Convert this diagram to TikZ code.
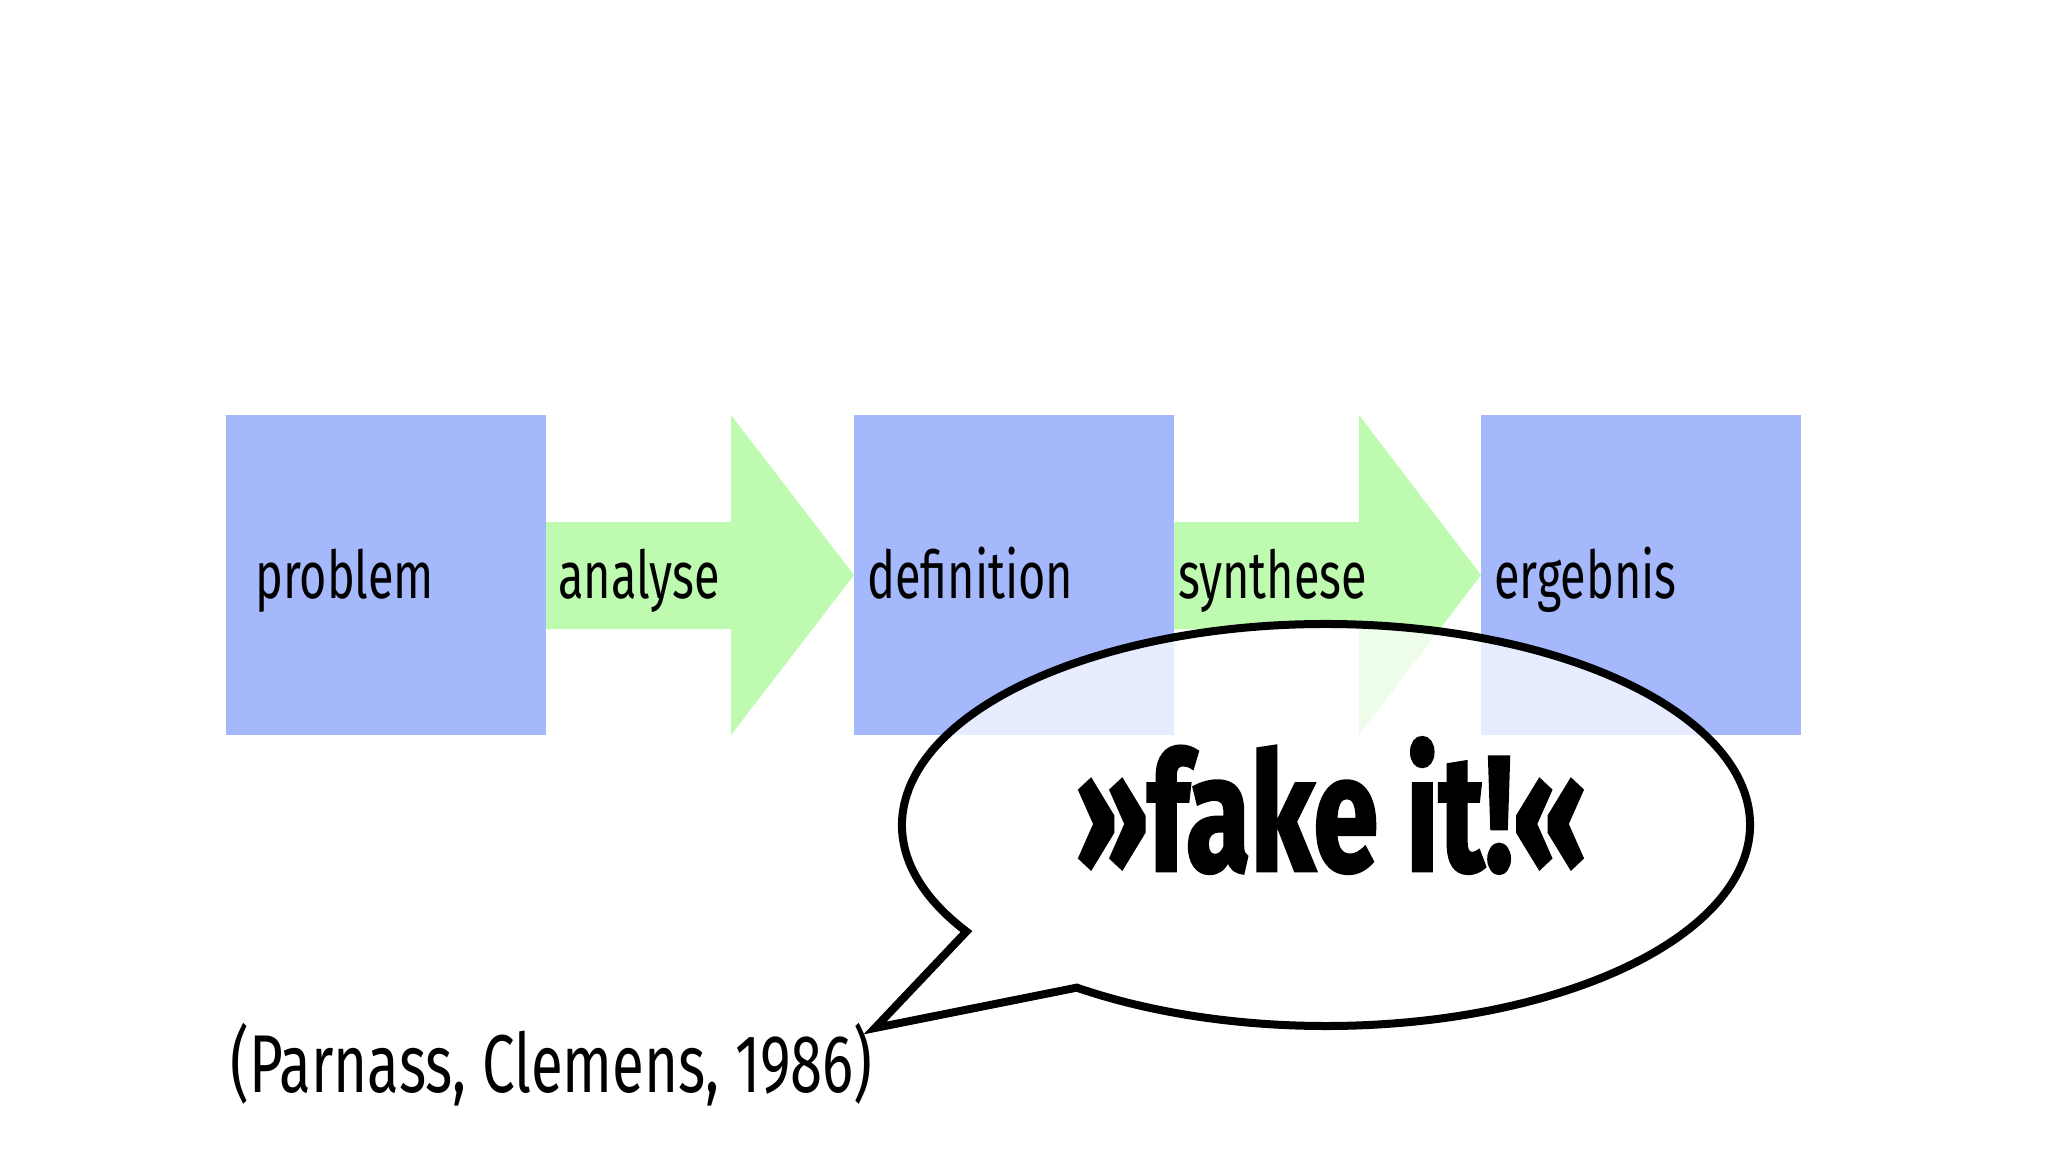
\documentclass[tikz,border=0pt]{standalone}
\usepackage{fontspec}
\usetikzlibrary{calc}
\setmainfont[FakeStretch=0.71]{Fira Sans}
\newfontfamily\boldcond[FakeStretch=0.71,FakeBold=1.6]{Fira Sans Bold}
\definecolor{boxblue}{HTML}{A6B8FC}
\definecolor{arrowgreen}{HTML}{BEFBB0}
\begin{document}
\begin{tikzpicture}[x=1pt,y=-1pt,
  stepbox/.style={fill=boxblue,draw=none},
  flowarrow/.style={fill=arrowgreen,draw=none},
  lbl/.style={anchor=base west,inner sep=0pt,font=\fontsize{66}{70}\selectfont},
  bubble/.style={fill=white,fill opacity=0.74,draw=black,draw opacity=1,line width=8pt,line join=miter}]
\useasboundingbox (0,0) rectangle (2048,1152);
% boxes
\fill[stepbox] (226,415) rectangle (546,735);
\fill[stepbox] (854,415) rectangle (1174,735);
\fill[stepbox] (1481,415) rectangle (1801,735);
% arrows
\fill[flowarrow] (546,522) -- (731,522) -- (731,415) -- (854,575) -- (731,735) -- (731,629) -- (546,629) -- cycle;
\fill[flowarrow] (1174,522) -- (1359,522) -- (1359,415) -- (1481,575) -- (1359,735) -- (1359,629) -- (1174,629) -- cycle;
% labels
\node[lbl] (problem) at (255,598) {problem};
\node[lbl] (analyse) at (558,598) {analyse};
\node[lbl] (definition) at (867,598) {definition};
\node[lbl] (synthese) at (1178,598) {synthese};
\node[lbl] (ergebnis) at (1494,598) {ergebnis};
% speech bubble
\coordinate (bc) at (1326,825);
\coordinate (tip) at (875,1028);
\draw[bubble] ($(bc)+(148:424 and 201)$) arc[start angle=148,end angle=486,x radius=424,y radius=201] -- (tip) -- cycle;
\node[anchor=base,inner sep=0pt,font=\boldcond\fontsize{165}{170}\selectfont] (fake) at (1331,871) {»fake it!«};
% citation
\node[anchor=base west,inner sep=0pt,font=\fontsize{82}{86}\selectfont] (cite) at (230,1092) {(Parnass, Clemens, 1986)};
\end{tikzpicture}
\end{document}
